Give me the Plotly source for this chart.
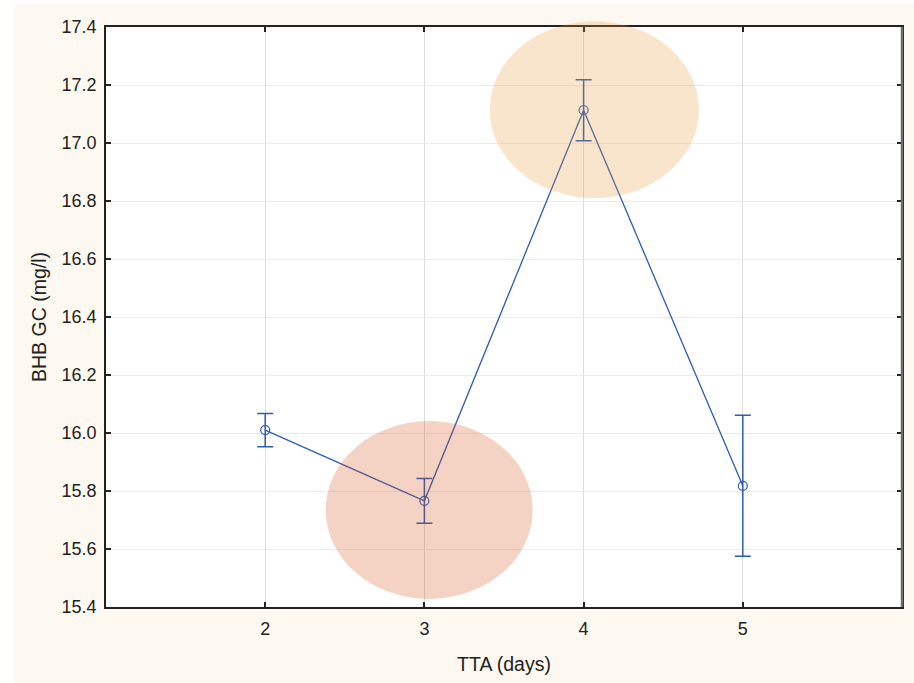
import plotly.graph_objects as go

# Mean BHB by time to assessment, with error bars
tta_days = [2, 3, 4, 5]
bhb_mean = [16.01, 15.766, 17.113, 15.818]
bhb_err = [0.057, 0.077, 0.105, 0.243]

x_ticks = [2, 3, 4, 5]
y_ticks = [15.4, 15.6, 15.8, 16.0, 16.2, 16.4, 16.6, 16.8, 17.0, 17.2, 17.4]
x_range = [1, 6]
y_range = [15.4, 17.4]

# Highlighted regions (data units): x0, x1, y0, y1, fill
highlights = [
    (2.38, 3.68, 15.428, 16.041, "rgba(211,79,23,0.25)"),
    (3.41, 4.725, 16.81, 17.42, "rgba(232,152,52,0.25)"),
]

blue = "#2D5BB5"
font = "Liberation Sans, Arial, sans-serif"

fig = go.Figure()
fig.add_trace(go.Scatter(
    x=tta_days, y=bhb_mean, mode="lines+markers",
    line=dict(color=blue, width=1.3),
    marker=dict(symbol="circle-open", size=9, color=blue, line=dict(width=1.2, color=blue)),
    error_y=dict(type="data", array=bhb_err, visible=True, color=blue, thickness=1.5, width=8),
    showlegend=False,
))


def to_frac(v):
    return (v - y_range[0]) / (y_range[1] - y_range[0])


shapes = [
    # cream page background
    dict(type="rect", xref="paper", yref="paper",
         x0=-92 / 798, x1=1.02, y0=-76 / 580, y1=1 + 22 / 580,
         fillcolor="#FDF9F0", line=dict(width=0), layer="below"),
    # white plot area
    dict(type="rect", xref="paper", yref="paper", x0=0, x1=1, y0=0, y1=1,
         fillcolor="white", line=dict(width=0), layer="below"),
    # right frame edge, drawn heavier in grey
    dict(type="line", xref="paper", yref="paper", x0=1, x1=1, y0=0, y1=1,
         line=dict(color="#6E6E6E", width=2.5), layer="above"),
]
for x0, x1, y0, y1, fill in highlights:
    shapes.append(dict(type="circle", xref="x", yref="paper",
                       x0=x0, x1=x1, y0=to_frac(y0), y1=to_frac(y1),
                       fillcolor=fill, line=dict(width=0), layer="above"))

fig.update_layout(
    width=914, height=683,
    margin=dict(l=106, r=10, t=27, b=76),
    paper_bgcolor="white", plot_bgcolor="rgba(0,0,0,0)",
    font=dict(family=font, size=18, color="#222222"),
    shapes=shapes,
    xaxis=dict(
        range=x_range, tickvals=x_ticks, ticktext=[str(v) for v in x_ticks],
        tickfont=dict(size=18), ticklabelstandoff=4,
        title=dict(text="TTA (days)", font=dict(size=19.5), standoff=20),
        showgrid=True, gridcolor="#DCDCDC", gridwidth=1, zeroline=False,
        showline=True, linecolor="#222222", linewidth=1.8, mirror="ticks",
        ticks="inside", ticklen=5, tickcolor="#222222", tickwidth=1.5,
    ),
    yaxis=dict(
        range=y_range, tickvals=y_ticks, ticktext=[f"{v:.1f}" for v in y_ticks],
        tickfont=dict(size=18), ticklabelstandoff=4,
        title=dict(text="BHB GC (mg/l)", font=dict(size=19.5), standoff=10),
        showgrid=True, gridcolor="#ECECEC", gridwidth=1, zeroline=False,
        showline=True, linecolor="#222222", linewidth=1.8, mirror="ticks",
        ticks="inside", ticklen=5, tickcolor="#222222", tickwidth=1.5,
    ),
)

fig.write_html("out.html")
